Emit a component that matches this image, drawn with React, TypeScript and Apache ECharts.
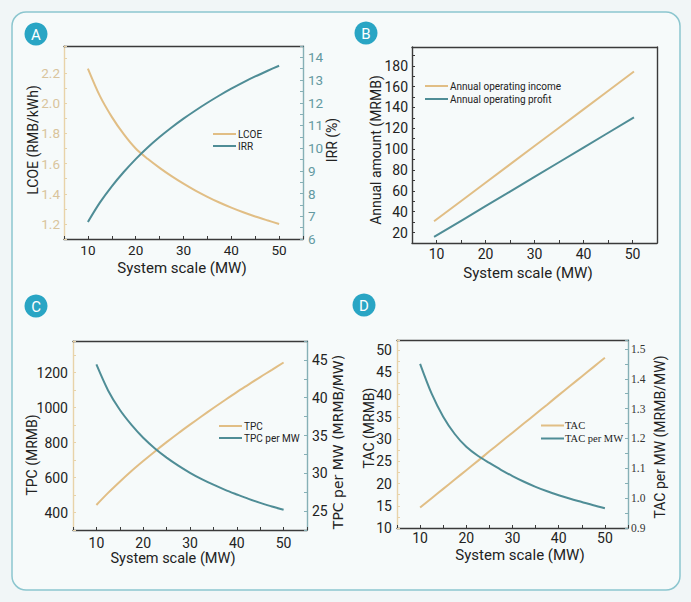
import React, { useEffect, useRef } from "react";
import * as echarts from "echarts";

// ---------- data ----------
const scaleGrid = [10, 12.5, 15, 17.5, 20, 22.5, 25, 27.5, 30, 32.5, 35, 37.5, 40, 42.5, 45, 47.5, 50];

const lcoe = [2.23, 2.049, 1.91, 1.795, 1.7, 1.632, 1.572, 1.517, 1.467, 1.421, 1.38, 1.342, 1.308, 1.277, 1.249, 1.224, 1.2];
const irr = [6.75, 7.6, 8.32, 8.95, 9.52, 10.03, 10.49, 10.91, 11.3, 11.66, 12.0, 12.32, 12.62, 12.9, 13.16, 13.4, 13.63];

const scaleB = [9.5, 20, 30, 40, 50.3];
const income = [30.8, 67.8, 103.0, 138.2, 174.5];
const profit = [15.8, 45.3, 73.4, 101.5, 130.5];

const tpc = [443, 512, 576, 637, 694, 749, 802, 853, 902, 950, 997, 1043, 1088, 1131, 1174, 1215, 1257];
const tpcPerMW = [44.4, 40.96, 38.4, 36.4, 34.7, 33.29, 32.08, 31.02, 30.07, 29.23, 28.49, 27.81, 27.2, 26.61, 26.09, 25.6, 25.18];

const tac = [14.6, 16.7, 18.8, 20.9, 23.0, 25.1, 27.25, 29.35, 31.45, 33.55, 35.65, 37.75, 39.9, 42.0, 44.1, 46.2, 48.3];
const tacPerMW = [1.45, 1.35, 1.273, 1.215, 1.172, 1.142, 1.118, 1.095, 1.074, 1.055, 1.038, 1.023, 1.01, 0.998, 0.987, 0.976, 0.966];

const panelLetters = ["A", "B", "C", "D"];

// ---------- styles ----------
const TAN = "#e1be85";
const TEAL = "#4f8d96";
const TAN_AXIS = "#e8d3a9";
const TEAL_AXIS = "#86b0b6";
const DARK = "#3a3a3a";
const TEXT = "#222";
const FONT = "Roboto, 'Noto Sans', sans-serif";
const SERIF = "'Liberation Serif', 'DejaVu Serif', serif";

const pairs = (xs: number[], ys: number[]) => xs.map((x, i) => [x, ys[i]]);

const stepFormatter = (step: number, digits: number) => (v: number) => {
  const r = v / step;
  if (Math.abs(r - Math.round(r)) > 1e-6) return "";
  return v.toFixed(digits);
};

const bottomX = (g: number, labelMargin: number, fontSize: number) => ({
  type: "value",
  gridIndex: g,
  position: "bottom",
  min: 5,
  max: 55,
  interval: 5,
  axisLine: { show: true, onZero: false, lineStyle: { color: DARK, width: 1.3 } },
  axisTick: { show: true, inside: true, length: 3, lineStyle: { color: DARK } },
  axisLabel: { formatter: stepFormatter(10, 0), margin: labelMargin, color: TEXT, fontSize, fontFamily: FONT },
  splitLine: { show: false },
});

const topX = (g: number) => ({
  type: "value",
  gridIndex: g,
  position: "top",
  min: 5,
  max: 55,
  axisLine: { show: true, onZero: false, lineStyle: { color: DARK, width: 1.3 } },
  axisTick: { show: false },
  axisLabel: { show: false },
  splitLine: { show: false },
});

const yAx = (
  g: number,
  pos: "left" | "right",
  min: number,
  max: number,
  interval: number,
  step: number,
  digits: number,
  lineColor: string,
  labelColor: string,
  fontSize: number,
  margin: number,
  family = FONT,
  showTicks = true,
  showLabels = true
) => ({
  type: "value",
  gridIndex: g,
  position: pos,
  min,
  max,
  interval,
  axisLine: { show: true, onZero: false, lineStyle: { color: lineColor, width: 1.4 } },
  axisTick: { show: showTicks, inside: true, length: 3, lineStyle: { color: lineColor } },
  axisLabel: {
    show: showLabels,
    formatter: stepFormatter(step, digits),
    margin,
    color: labelColor,
    fontSize,
    fontFamily: family,
  },
  splitLine: { show: false },
});

const lineSeries = (name: string, xi: number, yi: number, data: number[][], color: string) => ({
  name,
  type: "line",
  xAxisIndex: xi,
  yAxisIndex: yi,
  data,
  symbol: "none",
  smooth: 0.3,
  lineStyle: { color, width: 2 },
  itemStyle: { color },
});

const vText = (text: string, x: number, y: number, fontSize: number, family = FONT) => ({
  type: "text",
  x,
  y,
  rotation: Math.PI / 2,
  style: {
    text,
    fontSize,
    fontFamily: family,
    fill: TEXT,
    align: "center",
    verticalAlign: "middle",
    textAlign: "center",
    textVerticalAlign: "middle",
  },
});

const hText = (text: string, x: number, y: number, fontSize: number) => ({
  type: "text",
  x,
  y,
  style: {
    text,
    fontSize,
    fontFamily: FONT,
    fill: TEXT,
    align: "center",
    verticalAlign: "middle",
    textAlign: "center",
    textVerticalAlign: "middle",
  },
});

const badgePos = [
  [36, 34],
  [366, 33],
  [36, 306],
  [364, 305],
];

const legendBox = (
  names: string[],
  left: number,
  top: number,
  gap: number,
  fontSize: number,
  family = FONT,
  pad = -3
) => ({
  orient: "vertical",
  left,
  top,
  padding: 0,
  itemGap: gap,
  icon: "rect",
  itemWidth: 23,
  itemHeight: 2,
  data: names,
  textStyle: { color: TEXT, fontSize, fontFamily: family, padding: [0, 0, 0, pad] },
});

export default function App() {
  const ref = useRef<HTMLDivElement>(null);

  useEffect(() => {
    if (!ref.current) return;
    const chart = echarts.init(ref.current, undefined, { renderer: "svg" });

    const badges: any[] = [];
    panelLetters.forEach((l, i) => {
      const [cx, cy] = badgePos[i];
      badges.push({
        type: "circle",
        shape: { cx, cy, r: 11.5 },
        style: { fill: "#29a5c4" },
      });
      badges.push({
        type: "text",
        x: cx,
        y: cy + 0.5,
        style: {
          text: l,
          fontSize: 15,
          fontFamily: FONT,
          fill: "#ffffff",
          align: "center",
          verticalAlign: "middle",
          textAlign: "center",
          textVerticalAlign: "middle",
        },
      });
    });

    const option: any = {
      animation: false,
      backgroundColor: "#f1f6f7",
      graphic: [
        {
          type: "rect",
          z: -10,
          shape: { x: 12, y: 12, width: 668, height: 578, r: 14 },
          style: { fill: "#f6fafa", stroke: "#8cc6cf", lineWidth: 1.5 },
        },
        ...badges,
        // axis names
        vText("LCOE (RMB/kWh)", 33, 140, 14),
        vText("IRR (%)", 332, 140, 14),
        hText("System scale (MW)", 182, 268, 15),
        vText("Annual amount (MRMB)", 376, 150, 14),
        hText("System scale (MW)", 528, 273, 15),
        vText("TPC (MRMB)", 32, 455, 14),
        vText("TPC per MW (MRMB/MW)", 338, 442, 14, "'DejaVu Sans', sans-serif"),
        hText("System scale (MW)", 173, 558, 14.5),
        vText("TAC (MRMB)", 369, 428, 14),
        vText("TAC per MW (MRMB/MW)", 660, 437, 14),
        hText("System scale (MW)", 520, 555, 15),
      ],
      grid: [
        { left: 64, top: 46, width: 239, height: 193 },
        { left: 412, top: 47, width: 245, height: 196 },
        { left: 73, top: 341, width: 234, height: 189 },
        { left: 397, top: 340, width: 231, height: 188 },
      ],
      xAxis: [
        bottomX(0, 4, 13.5),
        topX(0),
        bottomX(1, 4, 14),
        topX(1),
        bottomX(2, 6, 14),
        topX(2),
        bottomX(3, 3, 14),
        topX(3),
      ],
      yAxis: [
        yAx(0, "left", 1.1, 2.38, 0.1, 0.2, 1, TAN_AXIS, "#d9c49c", 13.5, 4),
        yAx(0, "right", 6, 14.5, 0.5, 1, 0, TEAL_AXIS, "#6399a1", 13.5, 5),
        yAx(1, "left", 10, 198, 10, 20, 0, DARK, TEXT, 14, 4),
        yAx(1, "right", 0, 1, 1, 1, 0, DARK, TEXT, 12, 4, FONT, false, false),
        yAx(2, "left", 300, 1380, 100, 200, 0, TAN_AXIS, TEXT, 14, 5),
        yAx(2, "right", 22.5, 47.5, 2.5, 5, 0, TEAL_AXIS, TEXT, 14, 5),
        yAx(3, "left", 10, 52.3, 2.5, 5, 0, TAN_AXIS, TEXT, 14, 5),
        yAx(3, "right", 0.9, 1.53, 0.05, 0.1, 1, TEAL_AXIS, "#333", 11.5, 3, SERIF),
      ],
      legend: [
        legendBox(["LCOE", "IRR"], 213, 129, 2, 10),
        legendBox(["Annual operating income", "Annual operating profit"], 425, 81, 3, 10),
        legendBox(["TPC", "TPC per MW"], 219, 421, 2, 10),
        legendBox(["TAC", "TAC per MW"], 541, 420, 2, 10.5, SERIF, -4),
      ],
      series: [
        lineSeries("LCOE", 0, 0, pairs(scaleGrid, lcoe), TAN),
        lineSeries("IRR", 0, 1, pairs(scaleGrid, irr), TEAL),
        lineSeries("Annual operating income", 2, 2, pairs(scaleB, income), TAN),
        lineSeries("Annual operating profit", 2, 2, pairs(scaleB, profit), TEAL),
        lineSeries("TPC", 4, 4, pairs(scaleGrid, tpc), TAN),
        lineSeries("TPC per MW", 4, 5, pairs(scaleGrid, tpcPerMW), TEAL),
        lineSeries("TAC", 6, 6, pairs(scaleGrid, tac), TAN),
        lineSeries("TAC per MW", 6, 7, pairs(scaleGrid, tacPerMW), TEAL),
      ],
    };

    chart.setOption(option);
    return () => chart.dispose();
  }, []);

  return (
    <div
      ref={ref}
      style={{ position: "absolute", left: 0, top: 0, width: 691, height: 602 }}
    />
  );
}
